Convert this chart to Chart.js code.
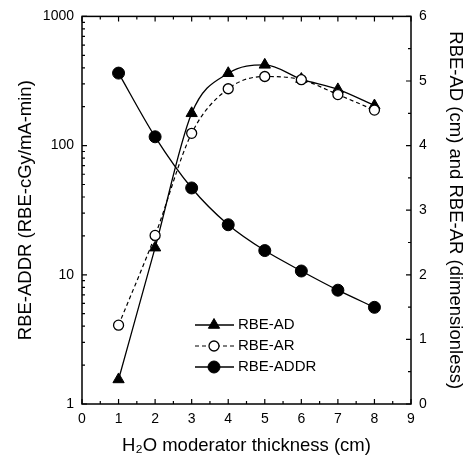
<!DOCTYPE html>
<html>
<head>
<meta charset="utf-8">
<script src="https://cdn.jsdelivr.net/npm/chart.js@4"></script>
<style>
  html, body { margin: 0; padding: 0; background: #fff; }
  #wrap { width: 466px; height: 459px; }
</style>
</head>
<body>
<div id="wrap"><canvas id="grafico"></canvas></div>
<script>
// espesor del moderador (cm)
const espesor = [1, 2, 3, 4, 5, 6, 7, 8];
// eje izquierdo (log)
const rbeADDR = [364, 117, 47, 24.4, 15.4, 10.7, 7.6, 5.6];
// eje derecho
const rbeAD = [0.38, 2.42, 4.5, 5.12, 5.25, 5.03, 4.87, 4.62];
const rbeAR = [1.22, 2.61, 4.19, 4.88, 5.07, 5.02, 4.79, 4.55];

const xTicks = [0, 1, 2, 3, 4, 5, 6, 7, 8, 9];
const logTicks = [1, 10, 100, 1000];
const rightTicks = [0, 1, 2, 3, 4, 5, 6];

const fuente = 'Arial, "Liberation Sans", Helvetica, sans-serif';

// marcas de las escalas hacia dentro + recuadro + leyenda
const marcas = {
  id: 'marcas',
  afterDraw(chart) {
    const ctx = chart.ctx;
    const a = chart.chartArea;
    const xs = chart.scales.x, yl = chart.scales.y, yr = chart.scales.y2;
    ctx.save();
    ctx.strokeStyle = '#000';
    ctx.lineWidth = 1.5;
    ctx.strokeRect(a.left, a.top, a.right - a.left, a.bottom - a.top);
    ctx.lineWidth = 1.2;
    ctx.beginPath();
    for (let v = 0; v <= 9; v += 0.5) {
      const px = xs.getPixelForValue(v);
      const l = Number.isInteger(v) ? 5 : 3;
      ctx.moveTo(px, a.bottom); ctx.lineTo(px, a.bottom - l);
      ctx.moveTo(px, a.top); ctx.lineTo(px, a.top + l);
    }
    [1, 10, 100].forEach(d => {
      for (let k = 1; k <= 9; k++) {
        const py = yl.getPixelForValue(k * d);
        const l = k === 1 ? 5 : 3;
        ctx.moveTo(a.left, py); ctx.lineTo(a.left + l, py);
      }
    });
    ctx.moveTo(a.left, yl.getPixelForValue(1000)); ctx.lineTo(a.left + 5, yl.getPixelForValue(1000));
    for (let v = 0; v <= 6; v += 0.5) {
      const py = yr.getPixelForValue(v);
      const l = Number.isInteger(v) ? 5 : 3;
      ctx.moveTo(a.right, py); ctx.lineTo(a.right - l, py);
    }
    ctx.stroke();

    // leyenda dentro del area
    const filas = [1, 2, 0];
    const y0 = 325, dy = 21;
    filas.forEach((i, n) => {
      const ds = chart.data.datasets[i];
      const y = y0 + n * dy;
      ctx.strokeStyle = '#000';
      ctx.beginPath();
      ctx.setLineDash(ds.borderDash || []);
      ctx.lineWidth = ds.borderWidth;
      ctx.moveTo(195, y); ctx.lineTo(234, y);
      ctx.stroke();
      ctx.setLineDash([]);
      ctx.fillStyle = ds.pointBackgroundColor;
      ctx.strokeStyle = ds.pointBorderColor;
      ctx.lineWidth = ds.pointBorderWidth;
      Chart.helpers.drawPoint(ctx, {
        pointStyle: ds.pointStyle, radius: ds.pointRadius, rotation: 0,
        borderWidth: ds.pointBorderWidth
      }, 214, y);
      ctx.fillStyle = '#000';
      ctx.font = '15px ' + fuente;
      ctx.textBaseline = 'middle';
      ctx.textAlign = 'left';
      ctx.fillText(ds.label, 238, y);
    });
    ctx.restore();
  }
};

new Chart(document.getElementById('grafico'), {
  type: 'line',
  data: {
    labels: espesor,
    datasets: [
      {
        label: 'RBE-ADDR',
        data: espesor.map((x, i) => ({ x: x, y: rbeADDR[i] })),
        yAxisID: 'y',
        borderColor: '#000', borderWidth: 1.3,
        pointStyle: 'circle', pointRadius: 6,
        pointBackgroundColor: '#000', pointBorderColor: '#000', pointBorderWidth: 1,
        tension: 0.3, order: 2
      },
      {
        label: 'RBE-AD',
        data: espesor.map((x, i) => ({ x: x, y: rbeAD[i] })),
        yAxisID: 'y2',
        borderColor: '#000', borderWidth: 1.3,
        pointStyle: 'triangle', pointRadius: 6.5,
        pointBackgroundColor: '#000', pointBorderColor: '#000', pointBorderWidth: 1,
        cubicInterpolationMode: 'monotone', order: 1
      },
      {
        label: 'RBE-AR',
        data: espesor.map((x, i) => ({ x: x, y: rbeAR[i] })),
        yAxisID: 'y2',
        borderColor: '#000', borderWidth: 1.2, borderDash: [4, 3],
        pointStyle: 'circle', pointRadius: 5,
        pointBackgroundColor: '#fff', pointBorderColor: '#000', pointBorderWidth: 1.3,
        cubicInterpolationMode: 'monotone', order: 0
      }
    ]
  },
  options: {
    responsive: true,
    maintainAspectRatio: false,
    animation: false,
    layout: { padding: { top: 13 } },
    plugins: { legend: { display: false }, tooltip: { enabled: false } },
    scales: {
      x: {
        type: 'linear', min: 0, max: 9,
        afterFit: s => { s.height = 55; },
        afterBuildTicks: s => { s.ticks = xTicks.map(v => ({ value: v })); },
        grid: { display: false, drawTicks: false },
        border: { display: false },
        ticks: { color: '#000', padding: 7, font: { size: 14, family: fuente }, maxRotation: 0 },
        title: {
          display: true, text: 'H₂O moderator thickness (cm)', color: '#000',
          font: { size: 18.5, family: fuente }, padding: { top: 2, bottom: 2 }
        }
      },
      y: {
        type: 'logarithmic', position: 'left', min: 1, max: 1000,
        afterFit: s => { s.width = 82; },
        afterBuildTicks: s => { s.ticks = logTicks.map(v => ({ value: v })); },
        grid: { display: false, drawTicks: false },
        border: { display: false },
        ticks: { color: '#000', padding: 8, font: { size: 14, family: fuente }, callback: v => String(v) },
        title: {
          display: true, text: 'RBE-ADDR (RBE-cGy/mA-min)', color: '#000',
          font: { size: 18.5, family: fuente }, padding: { top: 15, bottom: 0 }
        }
      },
      y2: {
        type: 'linear', position: 'right', min: 0, max: 6,
        afterFit: s => { s.width = 55; },
        afterBuildTicks: s => { s.ticks = rightTicks.map(v => ({ value: v })); },
        grid: { display: false, drawTicks: false },
        border: { display: false },
        ticks: { color: '#000', padding: 8, font: { size: 14, family: fuente } },
        title: {
          display: true, text: 'RBE-AD (cm) and RBE-AR (dimensionless)', color: '#000',
          font: { size: 18.5, family: fuente }, padding: { top: 0, bottom: 0 }
        }
      }
    }
  },
  plugins: [marcas]
});
</script>
</body>
</html>
